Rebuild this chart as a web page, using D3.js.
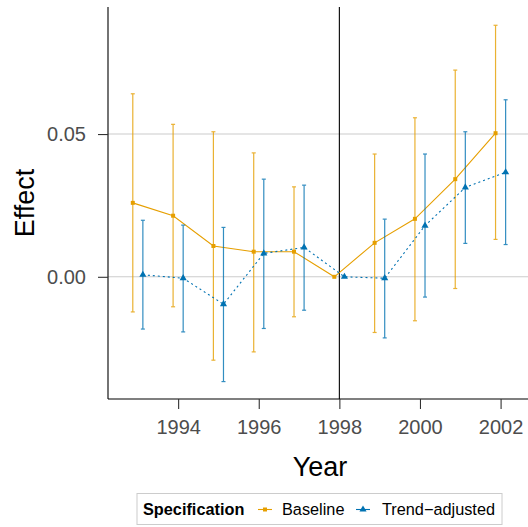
<!DOCTYPE html>
<html>
<head>
<meta charset="utf-8">
<script src="https://cdn.jsdelivr.net/npm/d3@7"></script>
<style>
  body { margin: 0; background: #fff; }
  svg { display: block; font-family: "Liberation Sans", Arial, sans-serif; }
</style>
</head>
<body>
<div id="chart"></div>
<script>
// data
const years = [1993, 1994, 1995, 1996, 1997, 1998, 1999, 2000, 2001, 2002];
const baseEst = [0.0259, 0.0214, 0.0108, 0.0088, 0.0088, 0, 0.0119, 0.0203, 0.0342, 0.0503];
const baseLo  = [-0.0123, -0.0105, -0.0292, -0.0263, -0.0140, null, -0.0195, -0.0154, -0.0041, 0.0131];
const baseHi  = [0.0641, 0.0534, 0.0508, 0.0434, 0.0315, null, 0.0430, 0.0557, 0.0724, 0.0881];
const trendEst = [0.0007, -0.0005, -0.0096, 0.0082, 0.0103, 0, -0.0005, 0.0179, 0.0313, 0.0366];
const trendLo  = [-0.0183, -0.0193, -0.0367, -0.0181, -0.0117, null, -0.0214, -0.0071, 0.0117, 0.0113];
const trendHi  = [0.0198, 0.0181, 0.0173, 0.0342, 0.0321, null, 0.0202, 0.0430, 0.0508, 0.0620];
const xTicks = [1994, 1996, 1998, 2000, 2002];
const yTicks = [0.00, 0.05];
const seriesNames = ["Baseline", "Trend\u2212adjusted"];

const width = 528, height = 527;
const pLeft = 108, pRight = 528, pTop = 7, pBottom = 399;
const colors = ["#E69F00", "#0072B2"];
const dodge = [-0.125, 0.125];

const x = d3.scaleLinear().domain([1992.26, 2002.68]).range([pLeft, pRight]);
const y = d3.scaleLinear().domain([-0.0428, 0.0945]).range([pBottom, pTop]);

const svg = d3.select("#chart").append("svg")
  .attr("width", width).attr("height", height);

// grid
svg.append("g").selectAll("line").data(yTicks).join("line")
  .attr("x1", pLeft).attr("x2", pRight)
  .attr("y1", d => y(d)).attr("y2", d => y(d))
  .attr("stroke", "#cccccc").attr("stroke-width", 1.1);

// reference line at 1998
svg.append("line")
  .attr("x1", x(1998)).attr("x2", x(1998))
  .attr("y1", pTop).attr("y2", pBottom)
  .attr("stroke", "#000").attr("stroke-width", 1.1);

const series = [
  { est: baseEst, lo: baseLo, hi: baseHi, dash: null, shape: d3.symbolSquare, size: 16 },
  { est: trendEst, lo: trendLo, hi: trendHi, dash: "2,3", shape: d3.symbolTriangle, size: 22 }
];

series.forEach((s, k) => {
  const pts = years.map((yr, i) => ({ x: yr + dodge[k], est: s.est[i], lo: s.lo[i], hi: s.hi[i] }));
  const g = svg.append("g");
  const bars = pts.filter(p => p.lo !== null);
  const eb = g.append("g").attr("stroke", colors[k]).attr("stroke-width", 1.2).attr("opacity", 0.8);
  eb.selectAll(".v").data(bars).join("line").attr("class", "v")
    .attr("x1", p => x(p.x)).attr("x2", p => x(p.x))
    .attr("y1", p => y(p.lo)).attr("y2", p => y(p.hi));
  eb.selectAll(".t").data(bars).join("line").attr("class", "t")
    .attr("x1", p => x(p.x) - 2).attr("x2", p => x(p.x) + 2)
    .attr("y1", p => y(p.hi)).attr("y2", p => y(p.hi));
  eb.selectAll(".b").data(bars).join("line").attr("class", "b")
    .attr("x1", p => x(p.x) - 2).attr("x2", p => x(p.x) + 2)
    .attr("y1", p => y(p.lo)).attr("y2", p => y(p.lo));

  g.append("path").datum(pts)
    .attr("fill", "none").attr("stroke", colors[k]).attr("stroke-width", 1.1)
    .attr("stroke-dasharray", s.dash)
    .attr("d", d3.line().x(p => x(p.x)).y(p => y(p.est)));

  g.selectAll("path.pt").data(pts).join("path")
    .attr("class", "pt")
    .attr("transform", p => `translate(${x(p.x)},${y(p.est)})`)
    .attr("d", d3.symbol().type(s.shape).size(s.size))
    .attr("fill", colors[k]);
});

// axes
const xAxis = svg.append("g").attr("transform", `translate(0,${pBottom})`)
  .call(d3.axisBottom(x).tickValues(xTicks).tickFormat(d3.format("d")).tickSize(10).tickPadding(11));
const yAxis = svg.append("g").attr("transform", `translate(${pLeft},0)`)
  .call(d3.axisLeft(y).tickValues(yTicks).tickFormat(d3.format(".2f")).tickSize(10).tickPadding(12));
[xAxis, yAxis].forEach(a => {
  a.select(".domain").attr("stroke", "#000").attr("stroke-width", 1.1);
  a.selectAll(".tick line").attr("stroke", "#333333").attr("stroke-width", 1.1);
  a.selectAll(".tick text").attr("fill", "#4d4d4d").attr("font-size", 20)
    .attr("font-family", "Liberation Sans, Arial, sans-serif");
});
yAxis.select(".domain").attr("d", `M0,${pTop}V${pBottom}`);
xAxis.select(".domain").attr("d", `M${pLeft},0H${pRight}`);

// titles
svg.append("text").attr("x", 320).attr("y", 476).attr("text-anchor", "middle")
  .attr("font-size", 27).attr("fill", "#000").text("Year");
svg.append("text").attr("transform", `translate(34,${(pTop + pBottom) / 2}) rotate(-90)`)
  .attr("text-anchor", "middle").attr("font-size", 27).attr("fill", "#000").text("Effect");

// legend
const lg = svg.append("g");
lg.append("rect").attr("x", 137).attr("y", 493.5).attr("width", 365).attr("height", 31)
  .attr("fill", "#fff").attr("stroke", "#cccccc").attr("stroke-width", 1);
lg.append("text").attr("x", 143).attr("y", 515).attr("font-size", 16.3)
  .attr("font-weight", "bold").text("Specification");
const keyX = [258, 356];
const textX = [282, 382];
seriesNames.forEach((name, k) => {
  lg.append("line").attr("x1", keyX[k]).attr("x2", keyX[k] + 14)
    .attr("y1", 509.5).attr("y2", 509.5).attr("stroke", colors[k]).attr("stroke-width", 1.1);
  lg.append("path").attr("transform", `translate(${keyX[k] + 7},509.5)`)
    .attr("d", d3.symbol().type(series[k].shape).size(series[k].size)).attr("fill", colors[k]);
  lg.append("text").attr("x", textX[k]).attr("y", 515).attr("font-size", 16.3).text(name);
});
</script>
</body>
</html>
